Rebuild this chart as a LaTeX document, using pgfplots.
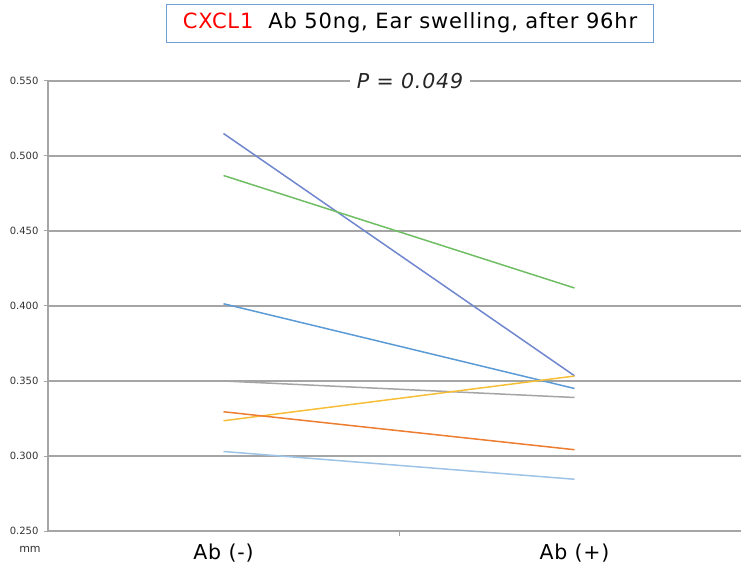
\documentclass[border=0pt]{standalone}
\usepackage{pgfplots}
\pgfplotsset{compat=1.18}
\usepackage{fontspec}
\setmainfont{DejaVu Sans}
\newfontfamily\tickfont{DejaVu Sans}
\newfontfamily\widefont[LetterSpace=4]{DejaVu Sans}
\definecolor{cA}{RGB}{112,134,206}
\definecolor{cB}{RGB}{112,190,100}
\definecolor{cC}{RGB}{91,155,213}
\definecolor{cD}{RGB}{165,165,165}
\definecolor{cE}{RGB}{246,190,55}
\definecolor{cF}{RGB}{237,125,49}
\definecolor{cG}{RGB}{157,195,230}
\definecolor{gridc}{RGB}{165,165,165}
\definecolor{boxc}{RGB}{110,160,215}
\begin{document}
\begin{tikzpicture}
\useasboundingbox (-48pt,-34pt) rectangle (693pt,531pt);
\begin{axis}[
  at={(0pt,0pt)}, anchor=south west,
  scale only axis, width=702pt, height=450pt,
  xmin=0, xmax=2, ymin=0.25, ymax=0.55,
  axis x line=bottom, axis y line=left,
  axis line style={draw=gridc, line width=1.2pt, -},
  ytick={0.25,0.30,0.35,0.40,0.45,0.50,0.55},
  yticklabel style={/pgf/number format/fixed, /pgf/number format/fixed zerofill, /pgf/number format/precision=3, font=\tickfont\fontsize{10}{12}\selectfont, text=black!80, xshift=-2pt},
  /pgf/number format/assume math mode=true,
  ymajorgrids, grid style={draw=gridc, line width=1.2pt},
  y tick style={draw=gridc, line width=1pt}, major tick length=4pt,
  xtick={0.5,1.5}, xticklabels={Ab (-), Ab (+)},
  x tick style={draw=none},
  xticklabel style={font=\widefont\fontsize{20.5}{24}\selectfont, yshift=-5pt},
  extra x ticks={1}, extra x tick labels={},
  extra x tick style={grid=none, x tick style={draw=gridc, line width=1pt}, tick align=outside, major tick length=5pt},
  tick align=outside,
  clip=false,
]
\addplot[cA, line width=1.5pt] coordinates {(0.5,0.515) (1.5,0.3535)};
\addplot[cB, line width=1.5pt] coordinates {(0.5,0.487) (1.5,0.412)};
\addplot[cC, line width=1.5pt] coordinates {(0.5,0.4015) (1.5,0.345)};
\addplot[cD, line width=1.5pt] coordinates {(0.5,0.350) (1.5,0.339)};
\addplot[cE, line width=1.5pt] coordinates {(0.5,0.3235) (1.5,0.3533)};
\addplot[cF, line width=1.5pt] coordinates {(0.5,0.3295) (1.5,0.3042)};
\addplot[cG, line width=1.5pt] coordinates {(0.5,0.303) (1.5,0.2845)};
\end{axis}
\node[fill=white, inner xsep=7pt, inner ysep=2pt, font=\widefont\itshape\fontsize{20.5}{24}\selectfont, text=black!85] at (362pt,450pt) {P = 0.049};
\node[draw=boxc, line width=0.8pt, minimum width=487pt, minimum height=38pt, inner sep=0pt, font=\widefont\fontsize{21}{25}\selectfont] at (362pt,508pt) {\textcolor{red}{CXCL1}\ \ Ab 50ng, Ear swelling, after 96hr};
\node[font=\tickfont\fontsize{11}{12}\selectfont, text=black!80] at (-18pt,-18pt) {mm};
\end{tikzpicture}
\end{document}
